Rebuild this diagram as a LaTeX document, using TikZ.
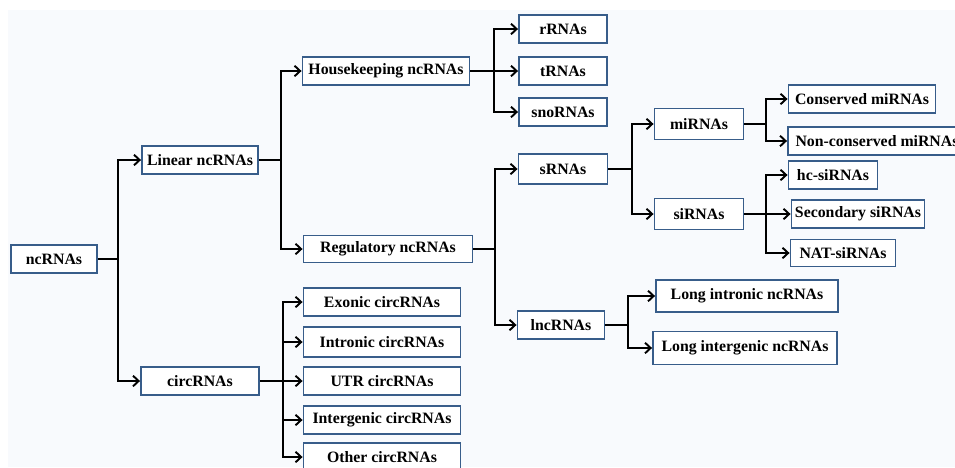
\documentclass[tikz,border=0pt]{standalone}
\usepackage{fontspec}
\setmainfont{Liberation Serif}
\usepackage{tikz}
\usetikzlibrary{arrows.meta,positioning}

\definecolor{boxblue}{HTML}{385D8A}
\definecolor{bgpale}{HTML}{F8FAFD}

\tikzset{
	box/.style={draw=boxblue, line width=1.1pt, fill=white, inner sep=1pt,
		minimum height=0.57cm, font=\fontsize{9}{10}\selectfont\bfseries},
	link/.style={line width=1.1pt, black},
	arr/.style={link, -{Straight Barb[length=3.2pt,width=6pt]}}
}

\begin{document}
\begin{tikzpicture}[x=0.02cm,y=-0.02cm]
		\useasboundingbox (0,0) rectangle (955,467);
		\fill[bgpale] (8,10) rectangle (955,467);
		% root and first split
		\node[box, minimum width=1.72cm] (nc) at (54,259) {ncRNAs};
		\node[box, minimum width=2.32cm] (lin) at (200,160) {Linear ncRNAs};
		\node[box, minimum width=2.36cm] (circ) at (200,381) {circRNAs};
		% linear ncRNAs
		\node[box, minimum width=3.34cm] (house) at (386,71) {Housekeeping ncRNAs};
		\node[box, minimum width=3.38cm, minimum height=0.54cm] (reg) at (388,249) {Regulatory ncRNAs};
		\node[box, minimum width=1.76cm] (rrna) at (563,29) {rRNAs};
		\node[box, minimum width=1.76cm] (trna) at (563,71) {tRNAs};
		\node[box, minimum width=1.76cm] (snorna) at (563,112) {snoRNAs};
		\node[box, minimum width=1.78cm, minimum height=0.6cm] (srna) at (563,169) {sRNAs};
		\node[box, minimum width=1.74cm] (lnc) at (561,325) {lncRNAs};
		% small RNAs
		\node[box, minimum width=1.78cm, minimum height=0.62cm] (mirna) at (699,124) {miRNAs};
		\node[box, minimum width=1.78cm, minimum height=0.62cm] (sirna) at (699,214) {siRNAs};
		\node[box, minimum width=2.94cm] (cons) at (862,99) {Conserved miRNAs};
		\node[box, minimum width=3.56cm] (noncons) at (877,141) {Non-conserved miRNAs};
		\node[box, minimum width=1.78cm] (hc) at (833,175) {hc-siRNAs};
		\node[box, minimum width=2.66cm] (second) at (858,214) {Secondary siRNAs};
		\node[box, minimum width=2.10cm, minimum height=0.54cm] (nat) at (843,253) {NAT-siRNAs};
		% long ncRNAs
		\node[box, minimum width=3.64cm, minimum height=0.64cm] (lintron) at (747,296) {Long intronic ncRNAs};
		\node[box, minimum width=3.68cm, minimum height=0.66cm] (linter) at (745,348) {Long intergenic ncRNAs};
		% circular RNAs
		\node[box, minimum width=3.14cm] (exon) at (382,302) {Exonic circRNAs};
		\node[box, minimum width=3.14cm, minimum height=0.6cm] (intron) at (382,342) {Intronic circRNAs};
		\node[box, minimum width=3.14cm] (utr) at (382,381) {UTR circRNAs};
		\node[box, minimum width=3.14cm] (interg) at (382,420) {Intergenic circRNAs};
		\node[box, minimum width=3.14cm] (other) at (382,457) {Other circRNAs};
		% branch points
		\coordinate (j0) at (118,259);
		\coordinate (j1) at (281,160);
		\coordinate (j2) at (494,71);
		\coordinate (j3) at (495,249);
		\coordinate (j4) at (632,169);
		\coordinate (j5) at (766,124);
		\coordinate (j6) at (766,214);
		\coordinate (j7) at (628,325);
		\coordinate (j8) at (283,381);
		% connectors
		\draw[link] (nc.east) -- (j0);
		\foreach \t in {lin,circ} \draw[arr] (j0) |- (\t);
		\draw[link] (lin.east) -- (j1);
		\foreach \t in {house,reg} \draw[arr] (j1) |- (\t);
		\draw[link] (house.east) -- (j2);
		\foreach \t in {rrna,trna,snorna} \draw[arr] (j2) |- (\t);
		\draw[link] (reg.east) -- (j3);
		\foreach \t in {srna,lnc} \draw[arr] (j3) |- (\t);
		\draw[link] (srna.east) -- (j4);
		\foreach \t in {mirna,sirna} \draw[arr] (j4) |- (\t);
		\draw[link] (mirna.east) -- (j5);
		\foreach \t in {cons,noncons} \draw[arr] (j5) |- (\t);
		\draw[link] (sirna.east) -- (j6);
		\foreach \t in {hc,second,nat} \draw[arr] (j6) |- (\t);
		\draw[link] (lnc.east) -- (j7);
		\foreach \t in {lintron,linter} \draw[arr] (j7) |- (\t);
		\draw[link] (circ.east) -- (j8);
		\foreach \t in {exon,intron,utr,interg,other} \draw[arr] (j8) |- (\t);
\end{tikzpicture}
\end{document}
